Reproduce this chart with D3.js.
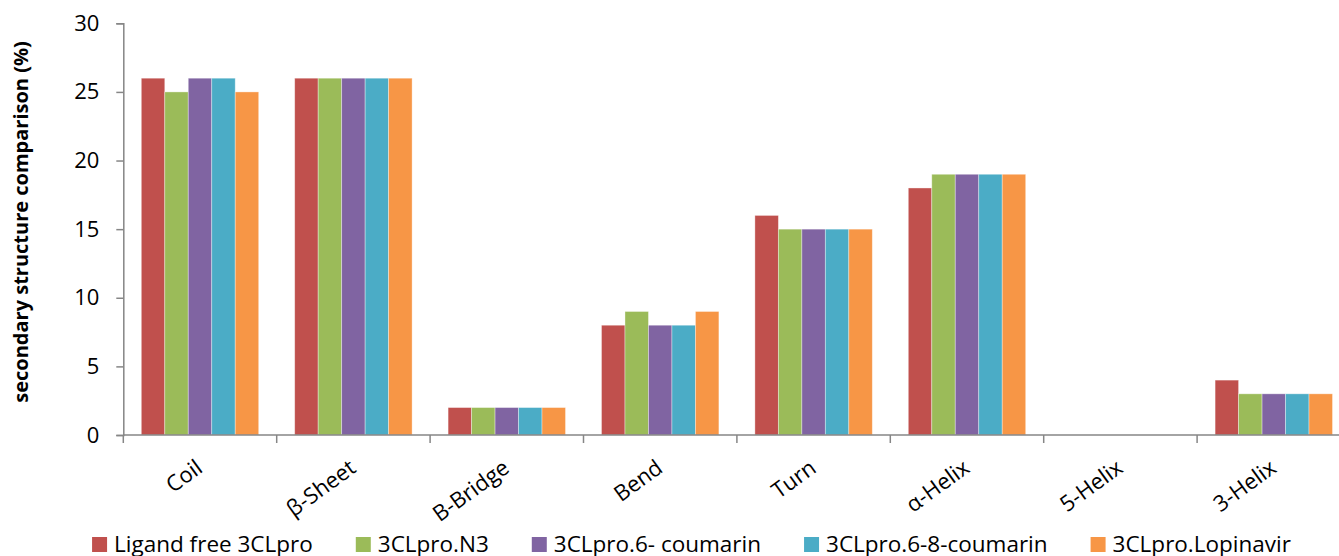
<!DOCTYPE html>
<html>
  <head>
    <meta charset="utf-8">
    <title></title>
    <script src="https://cdn.jsdelivr.net/npm/d3@7" charset="utf-8"></script>
    <style media="screen">
    body {margin:0; background:#fff;}
    text {font-family: "Open Sans", sans-serif;}
    </style>
    <script>
    // data
    var categories=['Coil', 'β-Sheet', 'B-Bridge', 'Bend', 'Turn', 'α-Helix', '5-Helix', '3-Helix'];
    var seriesNames=['Ligand free 3CLpro', '3CLpro.N3', '3CLpro.6- coumarin', '3CLpro.6-8-coumarin', '3CLpro.Lopinavir'];
    var ligandFree=[26, 26, 2, 8, 16, 18, 0, 4];
    var n3=[25, 26, 2, 9, 15, 19, 0, 3];
    var coumarin6=[26, 26, 2, 8, 15, 19, 0, 3];
    var coumarin68=[26, 26, 2, 8, 15, 19, 0, 3];
    var lopinavir=[25, 26, 2, 9, 15, 19, 0, 3];
    var yTicks=[0, 5, 10, 15, 20, 25, 30];

    window.onload=function (){
      var svg=d3.select('#svg1');
      var colors=['#C0504D', '#9BBB59', '#8064A2', '#4BACC6', '#F79646'];
      var allSeries=[ligandFree, n3, coumarin6, coumarin68, lopinavir];

      var left=123.3, right=1350.5, top=23.3, bottom=435;

      var x=d3.scaleBand().domain(categories).range([left, right]).padding(0);
      var x1=d3.scaleBand().domain(d3.range(seriesNames.length))
        .range([18, x.bandwidth()-18]).padding(0);
      var y=d3.scaleLinear().domain([0, 30]).range([bottom, top]);

      // bars
      categories.forEach(function (c, ci){
        var g=svg.append('g').attr('transform', 'translate('+x(c)+',0)');
        allSeries.forEach(function (s, si){
          if(s[ci]<=0) return;
          g.append('rect')
          .attr('x', x1(si))
          .attr('y', y(s[ci]))
          .attr('width', x1.bandwidth())
          .attr('height', y(0)-y(s[ci]))
          .attr('fill', colors[si])
          .attr('stroke', 'rgba(255,255,255,0.45)')
          .attr('stroke-width', 0.8);
        });
      });

      // y axis
      var yAxis=d3.axisLeft(y).tickValues(yTicks).tickSize(7).tickPadding(17);
      var gy=svg.append('g').attr('transform', 'translate('+left+',0)').call(yAxis);
      gy.select('.domain').attr('stroke', '#868686').attr('stroke-width', 1.5);
      gy.selectAll('.tick line').attr('stroke', '#868686').attr('stroke-width', 1.5);
      gy.selectAll('.tick text').attr('font-size', 22).attr('fill', '#000')
        .attr('font-family', '"Open Sans", sans-serif');

      // x axis
      var gx=svg.append('g').attr('transform', 'translate(0,'+bottom+')');
      gx.append('line').attr('x1', left).attr('x2', right)
        .attr('stroke', '#868686').attr('stroke-width', 1.5);
      d3.range(categories.length+1).forEach(function (i){
        var tx=left+i*x.bandwidth();
        gx.append('line').attr('x1', tx).attr('x2', tx).attr('y1', 0).attr('y2', 8)
          .attr('stroke', '#868686').attr('stroke-width', 1.5);
      });
      categories.forEach(function (c){
        var cx=x(c)+x.bandwidth()/2+4;
        gx.append('text')
        .attr('transform', 'translate('+cx+',36) rotate(-36)')
        .attr('text-anchor', 'end')
        .attr('font-size', 22)
        .text(c);
      });

      // y title
      svg.append('text')
      .attr('transform', 'translate(28,222) rotate(-90)')
      .attr('text-anchor', 'middle')
      .attr('font-size', 20)
      .attr('font-weight', 'bold')
      .text('secondary structure comparison (%)');

      // legend
      var gap=43;
      var lg=svg.append('g');
      var pos=0;
      seriesNames.forEach(function (name, i){
        var item=lg.append('g').attr('transform', 'translate('+pos+',0)');
        item.append('rect').attr('x', 0).attr('y', 537).attr('width', 15).attr('height', 15)
          .attr('fill', colors[i]);
        var t=item.append('text').attr('x', 22).attr('y', 552).attr('font-size', 22.5).text(name);
        pos+=22+t.node().getComputedTextLength()+gap;
      });
      var totalW=pos-gap;
      lg.attr('transform', 'translate('+(691.5-totalW/2)+',0)');
    };
    </script>
  </head>
  <body>
    <svg id="svg1" width="1339" height="556"></svg>
  </body>
</html>
